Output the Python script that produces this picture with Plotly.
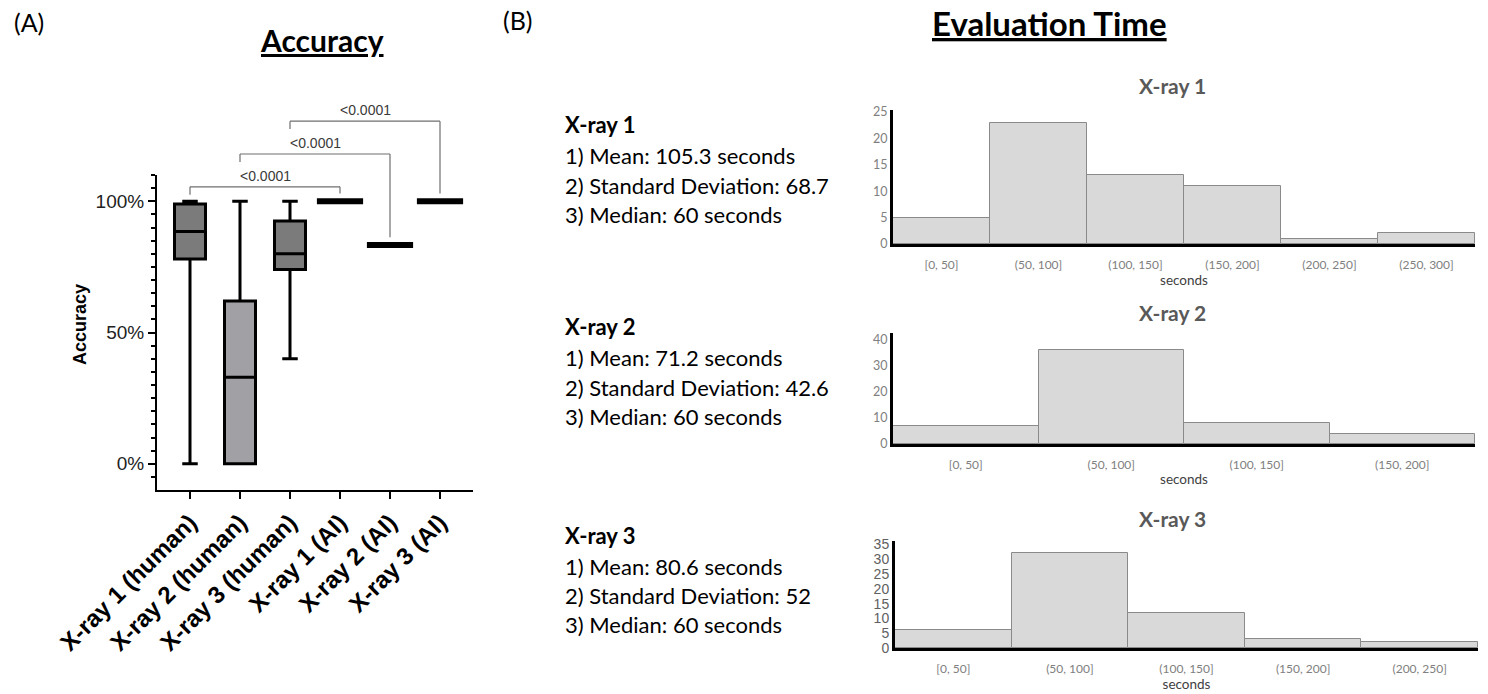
import plotly.graph_objects as go

W, H = 1488, 694

# ---------------- Panel A data ----------------
categories = ["X-ray 1 (human)", "X-ray 2 (human)", "X-ray 3 (human)",
              "X-ray 1 (AI)", "X-ray 2 (AI)", "X-ray 3 (AI)"]
human_q1 = [78, 0, 74]
human_median = [88.5, 33, 80]
human_q3 = [99, 62, 92.5]
human_low = [0, 0, 40]
human_high = [100, 100, 100]
human_fill = ["#7b7b7b", "#a1a1a5", "#7b7b7b"]
ai_accuracy = [100, 83.3, 100]

comparisons = [(0, 3), (1, 4), (2, 5)]
p_labels = ["<0.0001", "<0.0001", "<0.0001"]
bracket_levels = [105.5, 118, 130.5]

y_ticks = [0, 50, 100]
y_ticktext = ["0%", "50%", "100%"]

# ---------------- Panel B data ----------------
bins = ["[0, 50]", "(50, 100]", "(100, 150]", "(150, 200]", "(200, 250]", "(250, 300]"]
counts1 = [5, 23, 13, 11, 1, 2]
counts2 = [7, 36, 8, 4]
counts3 = [6, 32, 12, 3, 2]

stat_titles = ["X-ray 1", "X-ray 2", "X-ray 3"]
stat_lines = [
    ["1) Mean: 105.3 seconds", "2) Standard Deviation: 68.7", "3) Median: 60 seconds"],
    ["1) Mean: 71.2 seconds", "2) Standard Deviation: 42.6", "3) Median: 60 seconds"],
    ["1) Mean: 80.6 seconds", "2) Standard Deviation: 52", "3) Median: 60 seconds"],
]


def px_x(p):
    return p / W


def px_y(p):
    return 1 - p / H


ARIAL = "Liberation Sans, Arial, sans-serif"
CALIBRI = "Lato, Open Sans, sans-serif"

fig = go.Figure()

# Box plots (human)
for i in range(3):
    fig.add_trace(go.Box(
        x=[categories[i]], q1=[human_q1[i]], median=[human_median[i]], q3=[human_q3[i]],
        lowerfence=[human_low[i]], upperfence=[human_high[i]],
        fillcolor=human_fill[i], line=dict(color="black", width=3),
        width=0.62, whiskerwidth=0.5, boxpoints=False, showlegend=False,
        xaxis="x", yaxis="y"))

# AI single values
fig.add_trace(go.Scatter(
    x=categories[3:], y=ai_accuracy, mode="markers",
    marker=dict(symbol="line-ew", size=33, line=dict(width=6, color="black")),
    showlegend=False, xaxis="x", yaxis="y"))

# Histograms
hist_sets = [(counts1, "x2", "y2"), (counts2, "x3", "y3"), (counts3, "x4", "y4")]
for counts, xa, ya in hist_sets:
    fig.add_trace(go.Bar(
        x=bins[:len(counts)], y=counts,
        marker=dict(color="#d9d9d9", line=dict(color="#8a8a8a", width=1)),
        showlegend=False, xaxis=xa, yaxis=ya))

YMIN, YMAX = -10, 110


def ydom(v):
    return (v - YMIN) / (YMAX - YMIN)


shapes = []
annotations = []
for (a, b), lvl, lab in zip(comparisons, bracket_levels, p_labels):
    target = ai_accuracy[b - 3]
    path_pts = [(a, lvl - 3), (a, lvl), (b, lvl), (b, target + 3)]
    for (x0, y0), (x1, y1) in zip(path_pts[:-1], path_pts[1:]):
        shapes.append(dict(type="line", xref="x", yref="y domain",
                           x0=x0, x1=x1, y0=ydom(y0), y1=ydom(y1),
                           line=dict(color="#6e6e6e", width=1.2)))
    annotations.append(dict(text=lab.replace("<", "&lt;"), xref="x", yref="y domain",
                            x=(a + b) / 2, y=ydom(lvl + 4.3), showarrow=False,
                            xanchor="center", yanchor="middle",
                            font=dict(family=ARIAL, size=14, color="#3a3a3a")))

# Panel labels & titles
annotations += [
    dict(text="(A)", x=px_x(12), y=px_y(22), xanchor="left", yanchor="middle",
         font=dict(family=CALIBRI, size=25, color="black")),
    dict(text="(B)", x=px_x(501), y=px_y(20), xanchor="left", yanchor="middle",
         font=dict(family=CALIBRI, size=25, color="black")),
    dict(text="<b><u>Accuracy</u></b>", x=px_x(322), y=px_y(40), xanchor="center", yanchor="middle",
         font=dict(family=CALIBRI, size=30, color="black")),
    dict(text="<b><u>Evaluation Time</u></b>", x=px_x(1049), y=px_y(23), xanchor="center", yanchor="middle",
         font=dict(family=CALIBRI, size=33, color="black")),
    dict(text="<b>Accuracy</b>", x=px_x(80), y=px_y(325), xanchor="center", yanchor="middle",
         textangle=-90, font=dict(family=ARIAL, size=18, color="black")),
]

# Stats text blocks
block_y = [125, 327, 535]
for t, lines, y0 in zip(stat_titles, stat_lines, block_y):
    annotations.append(dict(text="<b>" + t + "</b>", x=px_x(563), y=px_y(y0),
                            xanchor="left", yanchor="middle",
                            font=dict(family=CALIBRI, size=22, color="black")))
    for k, ln in enumerate(lines):
        annotations.append(dict(text=ln, x=px_x(563), y=px_y(y0 + 31 + 29 * k),
                                xanchor="left", yanchor="middle",
                                font=dict(family=CALIBRI, size=22, color="black")))

# Histogram titles
hist_title_y = [85, 312, 518]
for t, yy in zip(stat_titles, hist_title_y):
    annotations.append(dict(text="<b>" + t + "</b>", x=px_x(1172), y=px_y(yy),
                            xanchor="center", yanchor="middle",
                            font=dict(family=CALIBRI, size=21, color="#595959")))

for a in annotations:
    a.setdefault("xref", "paper")
    a.setdefault("yref", "paper")
    a.setdefault("showarrow", False)

minor_vals = [v for v in range(-5, 111, 5) if v not in y_ticks]

hist_axis_common_x = dict(type="category", showline=True, linecolor="black", linewidth=3,
                          ticks="", showgrid=False, zeroline=False, automargin=False,
                          ticklabelstandoff=8,
                          tickfont=dict(family=CALIBRI, size=12, color="#808080"),
                          title=dict(text="seconds", font=dict(family=CALIBRI, size=13.5, color="#404040"),
                                     standoff=4))
hist_axis_common_y = dict(showline=True, linecolor="black", linewidth=3, ticks="",
                          showgrid=False, zeroline=False, automargin=False,
                          tickfont=dict(family=CALIBRI, size=12.5, color="#808080"))

fig.update_layout(
    template="none",
    width=W, height=H, margin=dict(l=0, r=0, t=0, b=0, pad=0, autoexpand=False),
    paper_bgcolor="white", plot_bgcolor="white",
    boxmode="overlay", bargap=0, showlegend=False,
    font=dict(family=ARIAL),
    xaxis=dict(domain=[px_x(157), px_x(473)], type="category",
               categoryorder="array", categoryarray=categories,
               range=[-0.66, 5.66], showline=True, linecolor="black", linewidth=2,
               ticks="outside", ticklen=7, tickwidth=2, tickcolor="black",
               tickangle=-45, showgrid=False, zeroline=False, automargin=False,
               tickfont=dict(family=ARIAL, size=24, color="black", weight="bold"),
               anchor="y"),
    yaxis=dict(domain=[px_y(490), px_y(175)], range=[YMIN, YMAX],
               tickmode="array", tickvals=y_ticks, ticktext=y_ticktext,
               showline=True, linecolor="black", linewidth=2,
               ticks="outside", ticklen=7, tickwidth=2, tickcolor="black",
               minor=dict(tickmode="array", tickvals=minor_vals, ticks="outside",
                          ticklen=4, tickwidth=1.5, tickcolor="black"),
               showgrid=False, zeroline=False, automargin=False,
               tickfont=dict(family=ARIAL, size=19, color="#222222"),
               anchor="x"),
    xaxis2=dict(domain=[px_x(893), px_x(1475)], anchor="y2", range=[-0.5, 5.5], **hist_axis_common_x),
    yaxis2=dict(domain=[px_y(244), px_y(110)], anchor="x2", range=[0, 25.4], dtick=5, **hist_axis_common_y),
    xaxis3=dict(domain=[px_x(893), px_x(1475)], anchor="y3", range=[-0.5, 3.5], **hist_axis_common_x),
    yaxis3=dict(domain=[px_y(444), px_y(333)], anchor="x3", range=[0, 42.5], dtick=10, **hist_axis_common_y),
    xaxis4=dict(domain=[px_x(895), px_x(1478)], anchor="y4", range=[-0.5, 4.5], **hist_axis_common_x),
    yaxis4=dict(domain=[px_y(648), px_y(541)], anchor="x4", range=[0, 36.2], dtick=5,
                showline=True, linecolor="black", linewidth=3, ticks="",
                showgrid=False, zeroline=False, automargin=False,
                tickfont=dict(family="Liberation Sans Narrow, Arial Narrow, " + ARIAL, size=14, color="#606060")),
    shapes=shapes,
    annotations=annotations,
)

fig.write_html("out.html", config={"displayModeBar": False},
               post_script="document.body.style.margin='0';document.body.style.overflow='hidden';")
